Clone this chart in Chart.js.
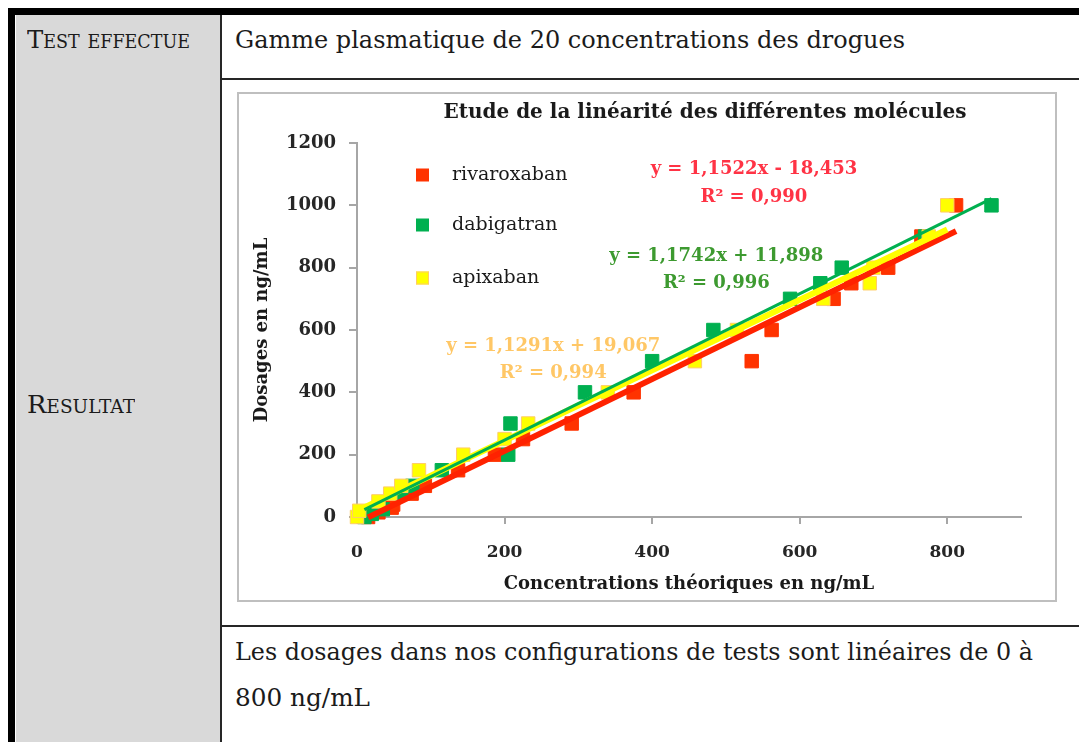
<!DOCTYPE html>
<html>
<head>
<meta charset="utf-8">
<script src="https://cdn.jsdelivr.net/npm/chart.js@4.4.1/dist/chart.umd.min.js"></script>
<style>
  html, body { margin: 0; padding: 0; background: #fff; }
  #page { position: relative; width: 1079px; height: 742px; overflow: hidden; }
  .blk { position: absolute; }
  .txt {
    position: absolute; white-space: nowrap; line-height: 1;
    font-family: "DejaVu Serif", serif; font-size: 25px; color: #1b1b1b;
    transform-origin: 0 0;
  }
  #chart { position: absolute; left: 238px; top: 93px; }
</style>
</head>
<body>
<div id="page">
  <!-- table frame -->
  <div class="blk" style="left:16px;top:15px;width:205px;height:727px;background:#d9d9d9"></div>
  <div class="blk" style="left:8px;top:8px;width:1071px;height:7px;background:#000"></div>
  <div class="blk" style="left:8px;top:8px;width:7px;height:734px;background:#000"></div>
  <div class="blk" style="left:220px;top:15px;width:2px;height:727px;background:#262626"></div>
  <div class="blk" style="left:220px;top:78px;width:859px;height:2px;background:#262626"></div>
  <div class="blk" style="left:220px;top:625px;width:859px;height:2px;background:#262626"></div>

  <div class="txt" data-w="163" style="left:27px;top:27px;font-variant:small-caps">Test effectue</div>
  <div class="txt" data-w="670" style="left:235px;top:27px">Gamme plasmatique de 20 concentrations des drogues</div>
  <div class="txt" data-w="108" style="left:27px;top:392px;font-variant:small-caps">Resultat</div>
  <div class="txt" data-w="798" style="left:235px;top:639px">Les dosages dans nos configurations de tests sont linéaires de 0 à</div>
  <div class="txt" data-w="135" style="left:235px;top:685px">800 ng/mL</div>

  <canvas id="chart" width="818" height="508"></canvas>
  <div class="blk" style="left:237px;top:92px;width:820px;height:510px;border:2px solid #bfbfbf;box-sizing:border-box"></div>
</div>

<script>
const chartTitle = "Etude de la linéarité des différentes molécules";
const xTitle = "Concentrations théoriques en ng/mL";
const yTitle = "Dosages en ng/mL";

const xMax = 900;
const yMax = 1200;
const xTickValues = [0, 200, 400, 600, 800];
const yTickValues = [0, 200, 400, 600, 800, 1000, 1200];

const seriesNames = ["rivaroxaban", "dabigatran", "apixaban"];

// measured points (x = theoretical concentration, y = dosage)
const rivaroxabanX = [15, 29, 47, 49, 74, 92, 137, 187, 225, 291, 375, 535, 562, 646, 670, 720, 765, 812];
const rivaroxabanY = [0, 15, 30, 40, 75, 100, 150, 200, 250, 300, 400, 500, 600, 700, 750, 800, 900, 1000];
const dabigatranX = [10, 20, 35, 60, 75, 115, 205, 208, 309, 400, 483, 587, 628, 657, 770, 860];
const dabigatranY = [0, 10, 25, 75, 100, 150, 200, 300, 400, 500, 600, 700, 750, 800, 900, 1000];
const apixabanX = [0, 3, 29, 45, 60, 84, 144, 200, 232, 340, 458, 515, 632, 695, 700, 775, 800];
const apixabanY = [0, 20, 50, 75, 100, 150, 200, 250, 300, 400, 500, 600, 700, 750, 800, 900, 1000];

// linear fits shown on the chart
const trendSlopes = [1.1522, 1.1742, 1.1291];
const trendIntercepts = [-18.453, 11.898, 19.067];
const trendR2 = ["0,990", "0,996", "0,994"];

const markerColors = ["#ff3300", "#00b050", "#ffff00"];
const markerBorders = ["#ff3300", "#00b050", "#ffcc66"];
const lineColors = ["#ff2200", "#00b050", "#ffff00"];
const lineWidths = [6, 3, 6];
const labelColors = ["#ff3345", "#3d9a30", "#ffc766"];
// equation label anchors, in data units: [x, y of equation, y of R²]
const eqAnchors = [[538, 1117, 1027], [487, 837, 751], [266, 549, 462]];

const xs = [rivaroxabanX, dabigatranX, apixabanX];
const ys = [rivaroxabanY, dabigatranY, apixabanY];

const fmt = (v) => String(Math.abs(v)).replace(".", ",");
const equation = (i) =>
  `y = ${fmt(trendSlopes[i])}x ${trendIntercepts[i] < 0 ? "-" : "+"} ${fmt(trendIntercepts[i])}`;

const markerOrder = [5, 4, 3];
const lineOrder = [2, 0, 1];

const datasets = [];
seriesNames.forEach((name, i) => {
  datasets.push({
    label: name,
    data: xs[i].map((x, k) => ({ x, y: ys[i][k] })),
    pointStyle: "rect",
    pointRadius: 9.5,
    pointHoverRadius: 9.5,
    backgroundColor: markerColors[i],
    borderColor: markerBorders[i],
    borderWidth: 1,
    showLine: false,
    clip: false,
    order: markerOrder[i],
  });
  const x0 = Math.min(...xs[i]);
  const x1 = Math.max(...xs[i]);
  datasets.push({
    label: name + " (fit)",
    data: [x0, x1].map((x) => ({ x, y: trendSlopes[i] * x + trendIntercepts[i] })),
    showLine: true,
    borderColor: lineColors[i],
    borderWidth: lineWidths[i],
    pointRadius: 0,
    pointHoverRadius: 0,
    fill: false,
    clip: false,
    order: lineOrder[i],
  });
});

// title, in-plot legend and fit equations
const overlayText = {
  id: "overlayText",
  afterDatasetsDraw(chart) {
    const { ctx, scales } = chart;
    ctx.save();
    ctx.textBaseline = "middle";

    ctx.font = 'bold 20px "DejaVu Serif"';
    ctx.fillStyle = "#1a1a1a";
    ctx.textAlign = "center";
    ctx.fillText(chartTitle, 467, 20);

    const legendY = [82, 132, 185];
    ctx.textAlign = "left";
    ctx.font = '19px "DejaVu Serif"';
    seriesNames.forEach((name, i) => {
      ctx.fillStyle = markerColors[i];
      ctx.fillRect(178, legendY[i] - 6.5, 13, 13);
      if (i === 2) {
        ctx.strokeStyle = markerBorders[i];
        ctx.lineWidth = 1;
        ctx.strokeRect(178.5, legendY[i] - 6, 12, 12);
      }
      ctx.fillStyle = "#1a1a1a";
      ctx.fillText(name, 214, legendY[i]);
    });

    ctx.textAlign = "center";
    ctx.font = 'bold 18px "DejaVu Serif"';
    eqAnchors.forEach(([ax, ay, ry], i) => {
      const px = scales.x.getPixelForValue(ax);
      ctx.fillStyle = labelColors[i];
      ctx.fillText(equation(i), px, scales.y.getPixelForValue(ay));
      ctx.fillText(`R² = ${trendR2[i]}`, px, scales.y.getPixelForValue(ry));
    });
    ctx.restore();
  },
};

const axisFont = { family: "DejaVu Serif", size: 18, weight: "bold" };

new Chart(document.getElementById("chart"), {
  type: "scatter",
  data: { datasets },
  options: {
    responsive: false,
    animation: false,
    layout: { padding: { top: 50, right: 35, bottom: 0, left: 0 } },
    scales: {
      x: {
        type: "linear",
        min: 0,
        max: xMax,
        afterFit: (s) => { s.height = 84; },
        afterBuildTicks: (s) => { s.ticks = xTickValues.map((value) => ({ value })); },
        border: { color: "#a6a6a6", width: 2 },
        grid: { drawOnChartArea: false, drawTicks: true, tickLength: 7, color: "#a6a6a6", lineWidth: 2 },
        ticks: { color: "#262626", font: { ...axisFont, size: 17 }, padding: 18, maxRotation: 0, callback: (v) => String(v) },
        title: { display: true, text: xTitle, color: "#1a1a1a", font: axisFont, padding: { top: 0, bottom: 6 } },
      },
      y: {
        type: "linear",
        min: 0,
        max: yMax,
        afterFit: (s) => { s.width = 119; },
        afterBuildTicks: (s) => { s.ticks = yTickValues.map((value) => ({ value })); },
        border: { color: "#a6a6a6", width: 2 },
        grid: { drawOnChartArea: false, drawTicks: true, tickLength: 8, color: "#a6a6a6", lineWidth: 2 },
        ticks: { color: "#262626", font: axisFont, padding: 13, callback: (v) => String(v) },
        title: { display: true, text: yTitle, color: "#1a1a1a", font: axisFont, padding: { top: 14, bottom: 0 } },
      },
    },
    plugins: {
      legend: { display: false },
      tooltip: { enabled: false },
    },
  },
  plugins: [overlayText],
});

// squeeze the table text to its column widths
document.querySelectorAll(".txt").forEach((el) => {
  const w = el.getBoundingClientRect().width;
  el.style.transform = `scaleX(${Number(el.dataset.w) / w})`;
});
</script>
</body>
</html>
